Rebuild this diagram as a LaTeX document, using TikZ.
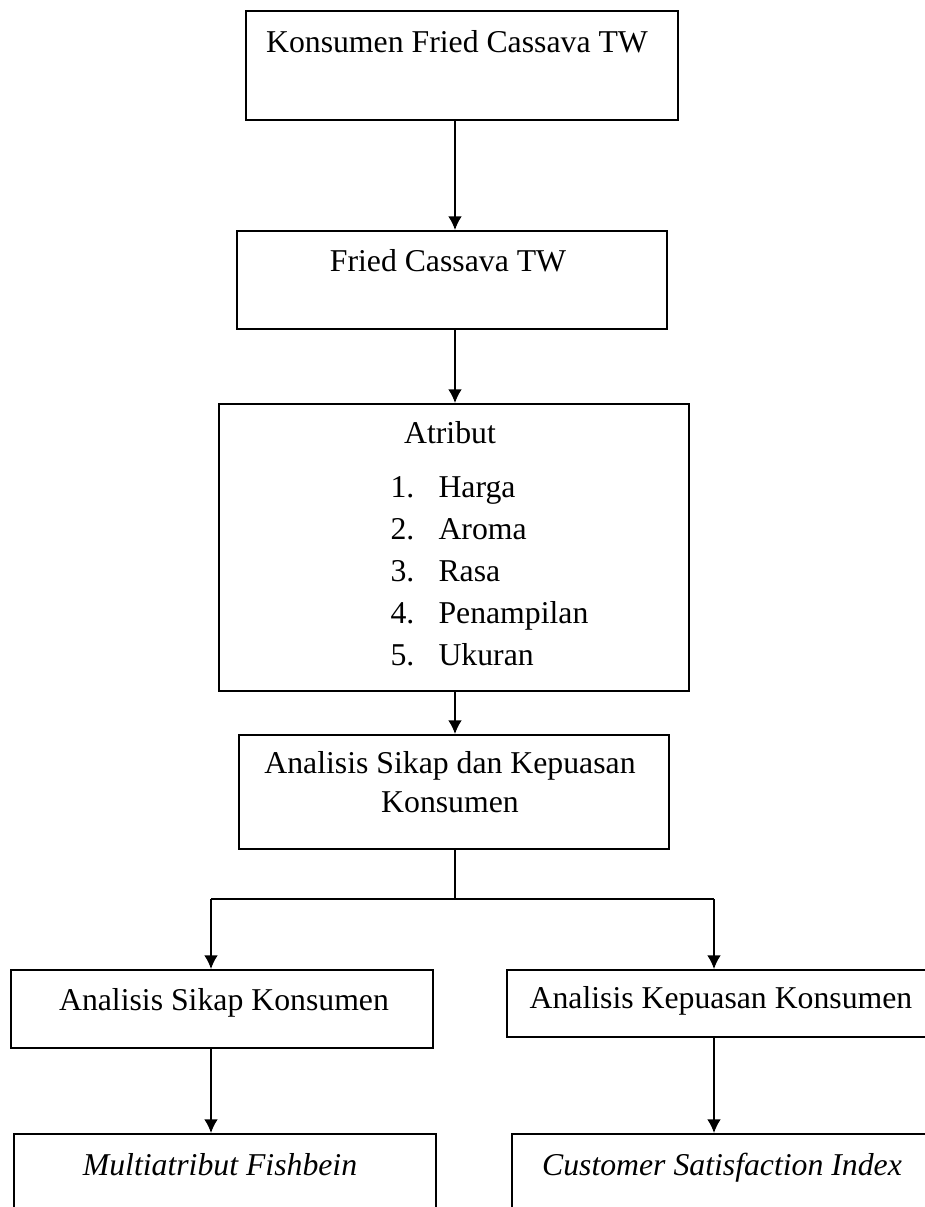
\documentclass[tikz,border=0pt]{standalone}
\usepackage{fontspec}
\setmainfont{Liberation Serif}
\usepackage{tikz}
\usetikzlibrary{positioning, calc, arrows.meta}

\tikzset{
	box/.style={draw, line width=0.8pt, inner sep=0pt, anchor=north west},
	txt/.style={inner sep=0pt, anchor=base, font=\fontsize{12.7}{15.6}\selectfont},
	arr/.style={-{Latex[length=5.5pt,width=5.5pt]}, line width=0.6pt}
}

\begin{document}
\begin{tikzpicture}[x=0.4pt, y=-0.4pt]
			
			\def\lh{42}
			
			\clip (0,0) rectangle (925,1207);
			
			% boxes
			\node[box, minimum width=172.8pt, minimum height=43.6pt] (konsumen) at (245,10) {};
			\node[box, minimum width=172pt, minimum height=39.2pt] (fried) at (236,230) {};
			\node[box, minimum width=188pt, minimum height=114.8pt] (atribut) at (218,403) {};
			\node[box, minimum width=172pt, minimum height=45.6pt] (analisis) at (238,734) {};
			\node[box, minimum width=168.8pt, minimum height=31.2pt] (sikap) at (10,969) {};
			\node[box, minimum width=173.6pt, minimum height=26.8pt] (kepuasan) at (506,969) {};
			\node[box, minimum width=168.8pt, minimum height=42.8pt] (fishbein) at (13,1133) {};
			\node[box, minimum width=171.6pt, minimum height=42.8pt] (csi) at (511,1133) {};
			
			% texts
			\node[txt] (konsumenT) at (457,52) {Konsumen Fried Cassava TW};
			\node[txt] (friedT) at (448,271) {Fried Cassava TW};
			\node[txt] (atributT) at (450,443) {Atribut};
			\foreach \i/\name in {1/Harga, 2/Aroma, 3/Rasa, 4/Penampilan, 5/Ukuran}
			{
			\node[txt, anchor=base west] (no\i) at (390,497+\lh*\i-\lh) {\i.};
			\node[txt, anchor=base west] (item\i) at (438,497+\lh*\i-\lh) {\name};
			}
			\node[txt] (analisisT1) at (450,773) {Analisis Sikap dan Kepuasan};
			\node[txt] (analisisT2) at (450,812) {Konsumen};
			\node[txt] (sikapT) at (224,1010) {Analisis Sikap Konsumen};
			\node[txt] (kepuasanT) at (721,1008) {Analisis Kepuasan Konsumen};
			\node[txt] (fishbeinT) at (220,1175) {\itshape Multiatribut Fishbein};
			\node[txt] (csiT) at (722,1175) {\itshape Customer Satisfaction Index};
			
			% connectors
			\coordinate (split) at (455,899);
			\coordinate (forkL) at (211,899);
			\coordinate (forkR) at (714,899);
			
			\draw[arr] (konsumen.south -| 455,0) -- (fried.north -| 455,0);
			\draw[arr] (fried.south -| 455,0) -- (atribut.north -| 455,0);
			\draw[arr] (atribut.south -| 455,0) -- (analisis.north -| 455,0);
			\draw[line width=0.6pt] (analisis.south -| split) -- (split);
			\draw[line width=0.6pt] (forkL) -- (forkR);
			\draw[arr] (forkL) -- (forkL |- sikap.north);
			\draw[arr] (forkR) -- (forkR |- kepuasan.north);
			\draw[arr] (sikap.south -| forkL) -- (fishbein.north -| forkL);
			\draw[arr] (kepuasan.south -| forkR) -- (csi.north -| forkR);
			\end{tikzpicture}
\end{document}
